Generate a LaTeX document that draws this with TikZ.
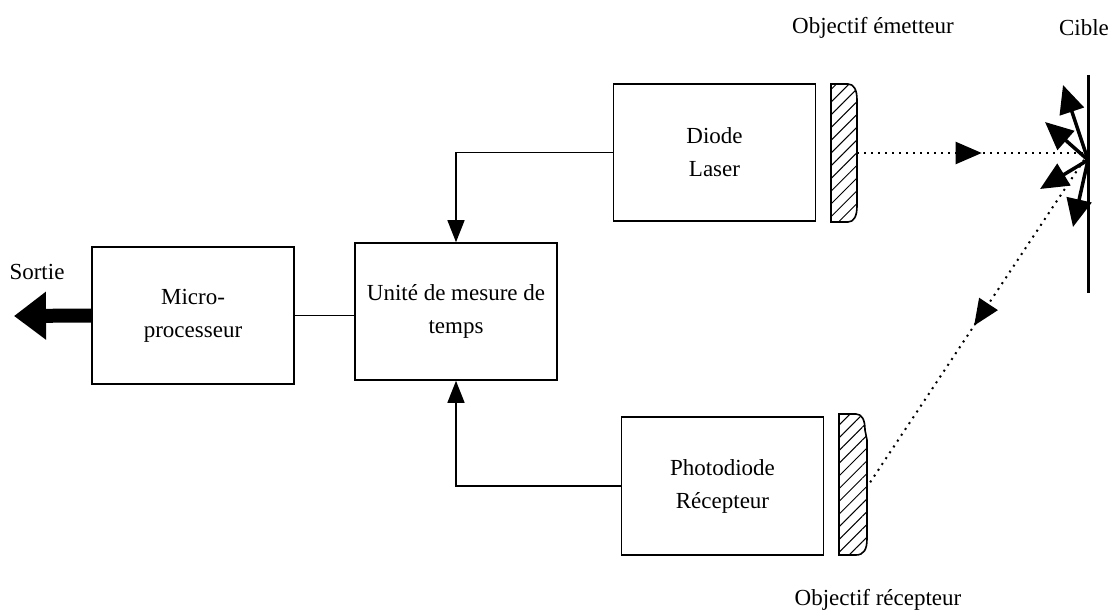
\documentclass[tikz,border=0pt]{standalone}
\usepackage{fontspec}
\setmainfont{Liberation Serif}
\usetikzlibrary{positioning}
\usetikzlibrary{arrows.meta,patterns.meta,decorations.markings}

\begin{document}
\begin{tikzpicture}[x=1pt,y=-1pt,font=\fontsize{23}{33}\selectfont,
   bloc/.style={draw,line width=1.6pt,minimum width=202pt,minimum height=137pt,align=center,inner sep=0pt},
   fleche/.style={-{Triangle[length=22pt,width=17pt]},line width=1.5pt},
   lentille/.style={draw,line width=1.6pt,pattern={Lines[angle=45,distance=9pt,line width=1pt]}},
   rayon/.style={line width=2pt,dash pattern=on 2pt off 5pt,postaction={decorate},
      decoration={markings,mark=at position #1 with {\arrow{Triangle[length=26pt,width=22pt]}}}},
   eclat/.style={-{Triangle[length=28pt,width=25pt]},line width=3.5pt}]
   \useasboundingbox (0,0) rectangle (1114,615);
   \node[bloc] (micro) at (193,315.5) {Micro-\\processeur};
   \node[bloc] (unite) at (456,311.5) {Unité de mesure de\\temps};
   \node[bloc] (diode) at (714.5,152.5) {Diode\\Laser};
   \node[bloc,minimum height=138pt] (photo) at (722.5,486) {Photodiode\\Récepteur};
   \draw[lentille] (831,222) -- (831,84) -- (848,84) .. controls (854,84) and (857,90) .. (857,100)
      -- (857,206) .. controls (857,216) and (854,222) .. (848,222) -- cycle;
   \draw[lentille] (839,555) -- (839,414) -- (856,414) .. controls (862,414) and (865,420) .. (865,430)
      -- (867,440) -- (867,539) .. controls (867,549) and (864,555) .. (856,555) -- cycle;
   \coordinate (objE) at (857,153);
   \coordinate (objR) at (869,484);
   \coordinate (cibleH) at (1088,75);
   \coordinate (cibleB) at (1088,293);
   \coordinate (impact) at (1088,160);
   \coordinate (sortie) at (14,316);
   \draw[line width=3pt] (cibleH) -- (cibleB);
   \draw[rayon=0.54] (objE) -- (impact |- objE);
   \draw[rayon=0.52] ([yshift=6pt]impact) -- (objR);
   \foreach \x/\y [count=\i] in {1063/85,1045/122,1040/189,1073/227} {
      \coordinate (eclat\i) at (\x,\y);
      \draw[eclat] (impact) -- (eclat\i);
   }
   \draw[fleche] (diode.west) -| (unite.north);
   \draw[fleche] (photo.west) -| (unite.south);
   \draw[line width=1.5pt] (micro.east) -- (micro.east -| unite.west);
   \draw[line width=14pt,-{Triangle[length=32pt,width=46pt]}] (micro.west) -- (sortie);
   \node (lsortie) at (37,272) {Sortie};
   \node (lobjE) at (873,28) {Objectif émetteur};
   \node (lcible) at (1084,28) {Cible};
   \node (lobjR) at (878,600) {Objectif récepteur};
\end{tikzpicture}
\end{document}
